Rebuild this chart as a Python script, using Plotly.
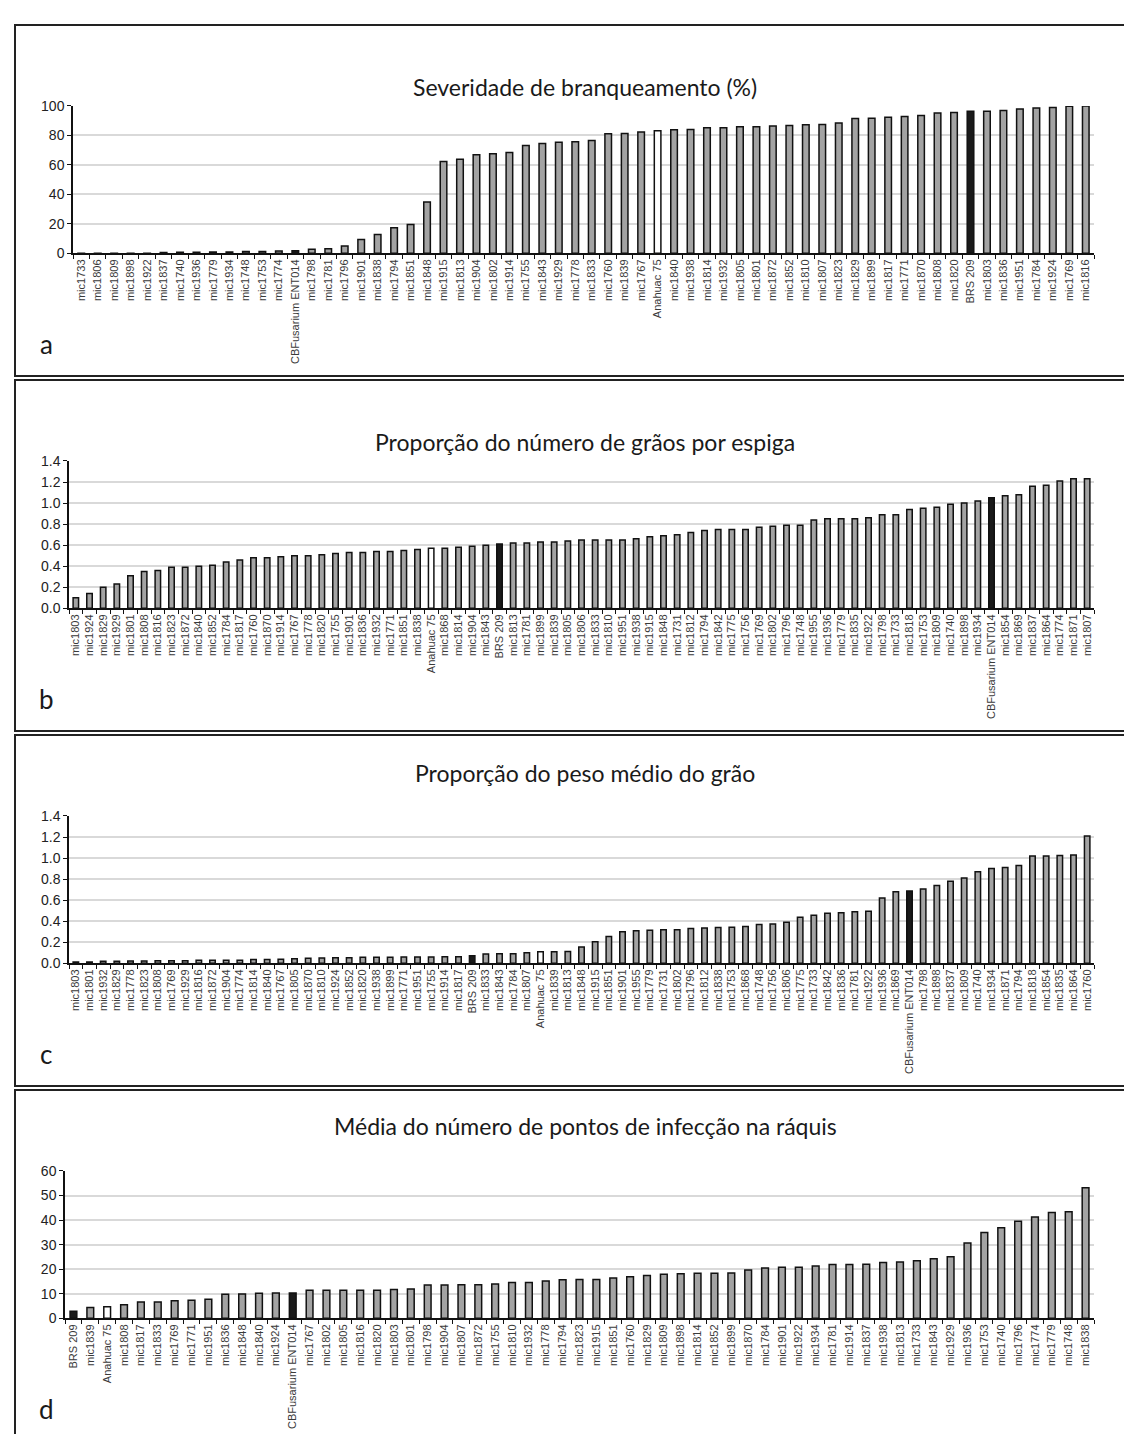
import plotly.graph_objects as go

# ---------------- data ----------------
cats_a = ["mic1733","mic1806","mic1809","mic1898","mic1922","mic1837","mic1740","mic1936","mic1779","mic1934",
          "mic1748","mic1753","mic1774","CBFusarium ENT014","mic1798","mic1781","mic1796","mic1901","mic1838","mic1794",
          "mic1851","mic1848","mic1915","mic1813","mic1904","mic1802","mic1914","mic1755","mic1843","mic1929",
          "mic1778","mic1833","mic1760","mic1839","mic1767","Anahuac 75","mic1840","mic1938","mic1814","mic1932",
          "mic1805","mic1801","mic1872","mic1852","mic1810","mic1807","mic1823","mic1829","mic1899","mic1817",
          "mic1771","mic1870","mic1808","mic1820","BRS 209","mic1803","mic1836","mic1951","mic1784","mic1924",
          "mic1769","mic1816"]
vals_a = [0.1,0.1,0.1,0.1,0.1,0.6,0.7,0.7,0.9,0.9,
          1.3,1.3,1.6,1.8,2.7,3.1,4.9,9.4,12.8,17.4,
          19.5,34.9,62.4,63.8,66.9,67.6,68.5,73.2,74.5,75.4,
          75.8,76.5,81.2,81.4,82.3,83.2,83.9,84.1,85.2,85.2,
          85.9,85.9,86.4,86.8,87.2,87.5,88.4,91.5,91.7,92.4,
          92.8,93.5,95.3,95.5,96.4,96.4,96.9,98.0,98.7,98.9,
          99.8,100.0]

cats_b = ["mic1803","mic1924","mic1829","mic1929","mic1801","mic1808","mic1816","mic1823","mic1872","mic1840",
          "mic1852","mic1784","mic1817","mic1760","mic1870","mic1914","mic1767","mic1778","mic1820","mic1755",
          "mic1901","mic1836","mic1932","mic1771","mic1851","mic1838","Anahuac 75","mic1868","mic1814","mic1904",
          "mic1843","BRS 209","mic1813","mic1781","mic1899","mic1839","mic1805","mic1806","mic1833","mic1810",
          "mic1951","mic1938","mic1915","mic1848","mic1731","mic1812","mic1794","mic1842","mic1775","mic1756",
          "mic1769","mic1802","mic1796","mic1748","mic1955","mic1936","mic1779","mic1835","mic1922","mic1798",
          "mic1733","mic1818","mic1753","mic1809","mic1740","mic1898","mic1934","CBFusarium ENT014","mic1854","mic1869",
          "mic1837","mic1864","mic1774","mic1871","mic1807"]
vals_b = [0.10,0.14,0.20,0.23,0.31,0.35,0.36,0.39,0.39,0.40,
          0.41,0.44,0.46,0.48,0.48,0.49,0.50,0.50,0.51,0.52,
          0.53,0.53,0.54,0.54,0.55,0.56,0.57,0.57,0.58,0.59,
          0.60,0.61,0.62,0.62,0.63,0.63,0.64,0.65,0.65,0.65,
          0.65,0.66,0.68,0.69,0.70,0.72,0.74,0.75,0.75,0.75,
          0.77,0.78,0.79,0.79,0.84,0.85,0.85,0.85,0.86,0.89,
          0.89,0.94,0.95,0.96,0.99,1.00,1.02,1.05,1.07,1.08,
          1.16,1.17,1.21,1.23,1.23]

cats_c = ["mic1803","mic1801","mic1932","mic1829","mic1778","mic1823","mic1808","mic1769","mic1929","mic1816",
          "mic1872","mic1904","mic1774","mic1814","mic1840","mic1767","mic1805","mic1870","mic1810","mic1924",
          "mic1852","mic1820","mic1938","mic1899","mic1771","mic1951","mic1755","mic1914","mic1817","BRS 209",
          "mic1833","mic1843","mic1784","mic1807","Anahuac 75","mic1839","mic1813","mic1848","mic1915","mic1851",
          "mic1901","mic1955","mic1779","mic1731","mic1802","mic1796","mic1812","mic1838","mic1753","mic1868",
          "mic1748","mic1756","mic1806","mic1775","mic1733","mic1842","mic1836","mic1781","mic1922","mic1936",
          "mic1869","CBFusarium ENT014","mic1798","mic1898","mic1837","mic1809","mic1740","mic1934","mic1871","mic1794",
          "mic1818","mic1854","mic1835","mic1864","mic1760"]
vals_c = [0.013,0.013,0.020,0.020,0.022,0.022,0.025,0.025,0.025,0.028,
          0.028,0.030,0.030,0.035,0.035,0.038,0.044,0.047,0.050,0.053,
          0.053,0.057,0.057,0.057,0.060,0.060,0.060,0.063,0.063,0.072,
          0.088,0.090,0.090,0.100,0.110,0.110,0.113,0.154,0.204,0.255,
          0.300,0.310,0.315,0.320,0.320,0.330,0.336,0.340,0.343,0.350,
          0.368,0.374,0.390,0.437,0.456,0.475,0.480,0.490,0.494,0.620,
          0.680,0.686,0.705,0.740,0.780,0.810,0.870,0.900,0.910,0.930,
          1.020,1.020,1.025,1.030,1.210]

cats_d = ["BRS 209","mic1839","Anahuac 75","mic1808","mic1817","mic1833","mic1769","mic1771","mic1951","mic1836",
          "mic1848","mic1840","mic1924","CBFusarium ENT014","mic1767","mic1802","mic1805","mic1816","mic1820","mic1803",
          "mic1801","mic1798","mic1904","mic1807","mic1872","mic1755","mic1810","mic1932","mic1778","mic1794",
          "mic1823","mic1915","mic1851","mic1760","mic1829","mic1809","mic1898","mic1814","mic1852","mic1899",
          "mic1870","mic1784","mic1901","mic1922","mic1934","mic1781","mic1914","mic1837","mic1938","mic1813",
          "mic1733","mic1843","mic1929","mic1936","mic1753","mic1740","mic1796","mic1774","mic1779","mic1748",
          "mic1838"]
vals_d = [2.9,4.4,4.7,5.5,6.6,6.6,7.2,7.4,7.8,9.8,
          9.9,10.2,10.3,10.3,11.4,11.4,11.4,11.4,11.4,11.7,
          11.9,13.6,13.6,13.7,13.7,14.0,14.6,14.6,15.2,15.7,
          15.8,15.8,16.4,16.9,17.4,17.9,18.1,18.3,18.3,18.4,
          19.7,20.5,20.8,20.8,21.3,21.9,21.9,22.0,22.7,22.9,
          23.4,24.3,25.1,30.7,34.9,36.9,39.5,41.3,43.1,43.4,
          53.2]

titles = ["Severidade de branqueamento (%)",
          "Proporção do número de grãos por espiga",
          "Proporção do peso médio do grão",
          "Média do número de pontos de infecção na ráquis"]
letters = ["a", "b", "c", "d"]
y_ranges = [[0, 100], [0, 1.4], [0, 1.4], [0, 60]]
y_dticks = [20, 0.2, 0.2, 10]
y_formats = ["d", ".1f", ".1f", "d"]

# ---------------- layout helpers ----------------
W, H = 1132, 1434
def px_x(x):
    return x / W
def px_y(y):
    return 1 - y / H

GRAY = "#a3a3a3"
def bar_color(name):
    if name.startswith("BRS") or name.startswith("CBF"):
        return "#1a1a1a"
    if name.startswith("Anahuac"):
        return "#ffffff"
    return GRAY

panels = [(cats_a, vals_a), (cats_b, vals_b), (cats_c, vals_c), (cats_d, vals_d)]
plot_left = [65, 61, 61, 57]
plot_right = 1086
period = 359
plot_top0 = 91
plot_h = 149
box_top0 = 9
box_h = 355
title_gap = [19, 19, 43, 45]

fig = go.Figure()
annotations = []
shapes = []
for i, (cats, vals) in enumerate(panels):
    n = "" if i == 0 else str(i + 1)
    fig.add_trace(go.Bar(
        x=cats, y=vals, xaxis="x" + n, yaxis="y" + n,
        width=0.4,
        marker=dict(color=[bar_color(c) for c in cats], line=dict(color="#111111", width=1.5)),
        showlegend=False, hoverinfo="x+y"))
    top = plot_top0 + i * period
    bottom = top + plot_h
    xa = dict(domain=[px_x(plot_left[i]), px_x(plot_right)], anchor="y" + n, type="category",
              range=[-0.5, len(cats) - 0.5], tickangle=-90, tickson="boundaries",
              ticks="outside", ticklen=4, tickcolor="#111", tickwidth=1.2,
              showline=True, linecolor="#111", linewidth=1.5, showgrid=False,
              tickfont=dict(family="Liberation Sans, Arial", size=11, color="#3a3a3a"),
              fixedrange=True)
    ya = dict(domain=[px_y(bottom), px_y(top)], anchor="x" + n, range=y_ranges[i],
              dtick=y_dticks[i], tick0=0, tickformat=y_formats[i],
              ticks="outside", ticklen=4, tickcolor="#111", tickwidth=1.2,
              showline=True, linecolor="#111", linewidth=1.5,
              showgrid=True, gridcolor="#d9d9d9", gridwidth=1.5, zeroline=False,
              tickfont=dict(family="Liberation Sans, Arial", size=14, color="#222"),
              fixedrange=True)
    fig.layout["xaxis" + n] = xa
    fig.layout["yaxis" + n] = ya

    box_top = box_top0 + i * period
    box_bottom = box_top + box_h
    shapes.append(dict(type="rect", xref="paper", yref="paper",
                       x0=px_x(7), x1=px_x(1130), y0=px_y(box_bottom), y1=px_y(box_top),
                       line=dict(color="#222", width=2), fillcolor="rgba(0,0,0,0)", layer="above"))
    annotations.append(dict(text=titles[i], xref="paper", yref="paper",
                            x=px_x(577), y=px_y(top - title_gap[i]), xanchor="center", yanchor="middle",
                            showarrow=False, font=dict(family="Lato, Open Sans", size=23, color="#1a1a1a")))
    annotations.append(dict(text=letters[i], xref="paper", yref="paper",
                            x=px_x(38), y=px_y(box_bottom - 32), xanchor="center", yanchor="middle",
                            showarrow=False, font=dict(family="Lato, Open Sans", size=26, color="#1a1a1a")))

fig.update_layout(width=W, height=H, margin=dict(l=0, r=0, t=0, b=0),
                  paper_bgcolor="white", plot_bgcolor="white",
                  bargap=0.6, shapes=shapes, annotations=annotations)

fig.write_html("out.html")
